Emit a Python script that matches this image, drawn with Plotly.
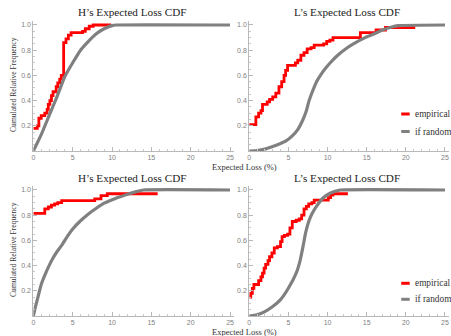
import plotly.graph_objects as go

W, H = 451, 336

# ---------------- data ----------------
H_top_emp_x = [0, 0.5, 0.7, 1.0, 1.45, 1.75, 1.9, 2.1, 2.3, 2.5, 2.9, 3.1, 3.35, 3.55, 3.85, 4.15, 4.45, 4.8, 6.25, 6.6, 7.1, 7.6, 9.9]
H_top_emp_y = [0.18, 0.20, 0.26, 0.28, 0.30, 0.33, 0.37, 0.40, 0.44, 0.47, 0.51, 0.54, 0.57, 0.60, 0.86, 0.89, 0.92, 0.94, 0.95, 0.97, 0.99, 1.0, 1.0]
H_top_rand_x = [0, 1, 2, 3, 4, 5, 6, 7, 8, 9, 10, 10.5, 25]
H_top_rand_y = [0, 0.13, 0.28, 0.43, 0.59, 0.70, 0.80, 0.87, 0.93, 0.97, 0.995, 1.0, 1.0]

L_top_emp_x = [0, 0.85, 1.2, 1.5, 1.7, 2.3, 2.6, 3.0, 3.4, 3.8, 4.15, 4.45, 4.65, 4.9, 5.9, 6.2, 6.6, 7.0, 7.4, 7.9, 8.3, 9.5, 9.9, 10.3, 10.7, 14.2, 16.2, 17.4, 21.2]
L_top_emp_y = [0.21, 0.27, 0.30, 0.32, 0.37, 0.39, 0.41, 0.43, 0.46, 0.51, 0.55, 0.60, 0.64, 0.68, 0.70, 0.72, 0.76, 0.78, 0.81, 0.82, 0.84, 0.85, 0.87, 0.88, 0.90, 0.94, 0.96, 0.98, 0.98]
L_top_rand_x = [0, 1, 2, 3, 4, 4.7, 5.5, 6.2, 6.8, 7.3, 7.6, 8.0, 8.6, 9.2, 9.8, 10.5, 11.3, 12.3, 13.3, 14.8, 16, 17, 18, 19, 25]
L_top_rand_y = [0, 0.004, 0.015, 0.035, 0.06, 0.08, 0.12, 0.17, 0.24, 0.32, 0.39, 0.46, 0.55, 0.61, 0.66, 0.71, 0.76, 0.81, 0.85, 0.90, 0.93, 0.96, 0.98, 0.995, 1.0]

H_bot_emp_x = [0, 1.45, 1.9, 2.3, 2.7, 3.1, 3.6, 7.8, 8.6, 9.4, 15.8]
H_bot_emp_y = [0.815, 0.85, 0.865, 0.88, 0.89, 0.90, 0.915, 0.93, 0.955, 0.97, 0.97]
H_bot_rand_x = [0, 0.25, 0.5, 1, 1.5, 2, 2.5, 3, 3.6, 4.3, 5, 5.9, 7, 8, 9, 10.5, 12.2, 13.1, 14, 25]
H_bot_rand_y = [0, 0.07, 0.13, 0.25, 0.33, 0.40, 0.46, 0.51, 0.56, 0.63, 0.69, 0.75, 0.81, 0.855, 0.895, 0.935, 0.97, 0.987, 1.0, 1.0]

L_bot_emp_x = [0, 0.2, 0.4, 0.6, 1.2, 1.5, 1.7, 1.9, 2.1, 2.4, 2.6, 2.9, 3.2, 3.6, 4.0, 4.2, 4.5, 4.9, 5.2, 5.5, 6.0, 6.4, 6.7, 7.0, 7.3, 7.6, 8.0, 8.3, 10.1, 10.4, 10.7, 12.6]
L_bot_emp_y = [0.15, 0.18, 0.22, 0.25, 0.28, 0.31, 0.34, 0.38, 0.41, 0.44, 0.47, 0.50, 0.54, 0.55, 0.59, 0.63, 0.64, 0.65, 0.70, 0.75, 0.76, 0.77, 0.80, 0.85, 0.87, 0.89, 0.90, 0.92, 0.94, 0.96, 0.97, 0.97]
L_bot_rand_x = [0, 1, 2, 3, 4, 5, 6, 6.5, 6.9, 7.2, 7.6, 8, 8.7, 9.5, 10.2, 11, 11.6, 25]
L_bot_rand_y = [0, 0.01, 0.035, 0.075, 0.13, 0.22, 0.34, 0.44, 0.56, 0.66, 0.75, 0.81, 0.88, 0.94, 0.97, 0.99, 1.0, 1.0]

titles = ["H’s Expected Loss CDF", "L’s Expected Loss CDF", "H’s Expected Loss CDF", "L’s Expected Loss CDF"]
x_ticks = [0, 5, 10, 15, 20, 25]
y_ticks = [0.2, 0.4, 0.6, 0.8, 1.0]
y_tick_text = ["0.2", "0.4", "0.6", "0.8", "1.0"]
legend_names = ["empirical", "if random"]

RED = "#ff0000"
GRAY = "#808080"

panels = [
    (H_top_emp_x, H_top_emp_y, H_top_rand_x, H_top_rand_y),
    (L_top_emp_x, L_top_emp_y, L_top_rand_x, L_top_rand_y),
    (H_bot_emp_x, H_bot_emp_y, H_bot_rand_x, H_bot_rand_y),
    (L_bot_emp_x, L_bot_emp_y, L_bot_rand_x, L_bot_rand_y),
]

# pixel geometry
xdom = [(31.5 / W, 233.0 / W), (248.3 / W, 448.9 / W)]
ydom = [(1 - 151 / H, 1 - 21.2 / H), (1 - 316 / H, 1 - 186.2 / H)]

fig = go.Figure()
for i, (ex, ey, rx, ry) in enumerate(panels):
    k = i + 1
    xa = "x" if k == 1 else f"x{k}"
    ya = "y" if k == 1 else f"y{k}"
    fig.add_trace(go.Scatter(x=ex, y=ey, mode="lines", line=dict(color=RED, width=2.8, shape="hv"),
                             xaxis=xa, yaxis=ya, showlegend=False, name=legend_names[0]))
    fig.add_trace(go.Scatter(x=rx, y=ry, mode="lines", line=dict(color=GRAY, width=3.2, shape="spline", smoothing=0.4),
                             xaxis=xa, yaxis=ya, showlegend=False, name=legend_names[1]))
    col = i % 2
    row = i // 2
    axcommon = dict(showline=True, linecolor="#b8b8b8", linewidth=1, showgrid=False, zeroline=False,
                    ticks="inside", tickcolor="#b8b8b8", ticklen=4,
                    tickfont=dict(family="Liberation Sans, Arial", size=7, color="#808080"))
    xkey = "xaxis" if k == 1 else f"xaxis{k}"
    ykey = "yaxis" if k == 1 else f"yaxis{k}"
    fig.layout[xkey] = dict(domain=list(xdom[col]), range=[0, 25.5], anchor=ya, tickvals=x_ticks,
                            minor=dict(dtick=1, ticks="inside", ticklen=2, tickcolor="#c8c8c8"), **axcommon)
    fig.layout[ykey] = dict(domain=list(ydom[row]), range=[0, 1.03], anchor=xa, tickvals=y_ticks,
                            ticktext=y_tick_text,
                            minor=dict(tickvals=[0.05 * j for j in range(1, 21)], ticks="inside", ticklen=2,
                                       tickcolor="#c8c8c8"), **axcommon)
    # title
    cx = (xdom[col][0] + xdom[col][1]) / 2 - 2 / W
    ty = 1 - (12 if row == 0 else 178) / H
    fig.add_annotation(text=titles[i], x=cx, y=ty, xref="paper", yref="paper", showarrow=False,
                       xanchor="center", yanchor="middle",
                       font=dict(family="Liberation Serif, Times New Roman", size=11.2, color="#222"))

serif_small = dict(family="Liberation Serif, Times New Roman", size=8.5, color="#333")
serif_ylab = dict(family="Liberation Serif, Times New Roman", size=7.6, color="#333")
serif_leg = dict(family="Liberation Serif, Times New Roman", size=9.3, color="#333")
for row in range(2):
    # y axis label
    cy = 1 - (84 if row == 0 else 249) / H
    fig.add_annotation(text="Cumulated Relative Frequency", x=11 / W, y=cy, xref="paper", yref="paper",
                       showarrow=False, textangle=-90, xanchor="center", yanchor="middle", font=serif_ylab)
    # x axis label
    ly = 1 - (167 if row == 0 else 331.5) / H
    fig.add_annotation(text="Expected Loss (%)", x=244 / W, y=ly, xref="paper", yref="paper",
                       showarrow=False, xanchor="center", yanchor="middle", font=serif_small)
    # legend
    leg_y = [114, 131.5] if row == 0 else [283.3, 299.3]
    for j, (nm, c) in enumerate(zip(legend_names, [RED, GRAY])):
        yy = 1 - leg_y[j] / H
        fig.add_shape(type="line", xref="paper", yref="paper", x0=401 / W, x1=409.5 / W, y0=yy, y1=yy,
                      line=dict(color=c, width=3))
        fig.add_annotation(text=nm, x=413 / W, y=yy, xref="paper", yref="paper", showarrow=False,
                           xanchor="left", yanchor="middle", font=serif_leg)

fig.update_layout(width=W, height=H, margin=dict(l=0, r=0, t=0, b=0),
                  paper_bgcolor="white", plot_bgcolor="white", showlegend=False)
fig.write_html("out.html", config={"displayModeBar": False},
               post_script="document.body.style.margin='0';document.body.style.overflow='hidden';")
